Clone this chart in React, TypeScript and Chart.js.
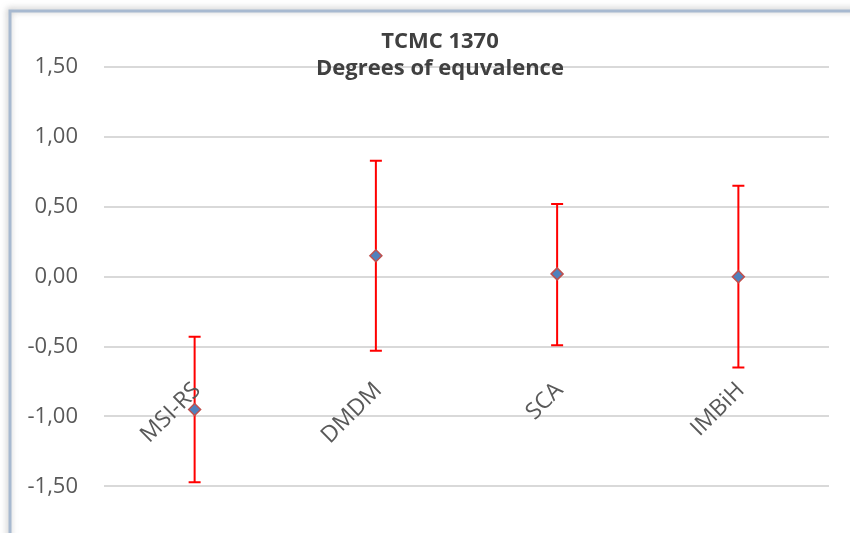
import React, { useEffect, useRef } from "react";
import { Chart, registerables } from "chart.js";

Chart.register(...registerables);

const categories = ["MSI-RS", "DMDM", "SCA", "IMBiH"];
const values = [-0.95, 0.15, 0.02, 0.0];
const errUp = [0.52, 0.68, 0.5, 0.65];
const errDown = [0.52, 0.68, 0.51, 0.65];
const titleLines = ["TCMC 1370", "Degrees of equvalence"];
const yMin = -1.78;
const yMax = 1.5;
const yStep = 0.5;
const labelAxisValue = -0.82;

const TICK_COLOR = "#595959";
const FONT = "'Open Sans', 'DejaVu Sans', sans-serif";

const framePlugin = {
  id: "frame",
  beforeDraw(chart: any) {
    const ctx = chart.ctx;
    ctx.save();
    ctx.fillStyle = "#ffffff";
    ctx.fillRect(0, 0, chart.width, chart.height);
    ctx.shadowColor = "rgba(120,120,120,0.55)";
    ctx.shadowBlur = 6;
    ctx.shadowOffsetX = -1;
    ctx.shadowOffsetY = -1;
    ctx.strokeStyle = "#a7b9d0";
    ctx.lineWidth = 3;
    ctx.beginPath();
    ctx.moveTo(10, chart.height + 10);
    ctx.lineTo(10, 11);
    ctx.lineTo(chart.width + 10, 11);
    ctx.stroke();
    ctx.restore();
  },
};

const errorBarPlugin = {
  id: "errorBars",
  beforeDatasetsDraw(chart: any) {
    const ctx = chart.ctx;
    const xs = chart.scales.x;
    const ys = chart.scales.y;
    ctx.save();
    ctx.strokeStyle = "#ff0000";
    ctx.lineWidth = 2;
    values.forEach((v, i) => {
      const x = xs.getPixelForValue(i);
      const yt = ys.getPixelForValue(v + errUp[i]);
      const yb = ys.getPixelForValue(v - errDown[i]);
      ctx.beginPath();
      ctx.moveTo(x, yt);
      ctx.lineTo(x, yb);
      ctx.moveTo(x - 6, yt);
      ctx.lineTo(x + 6, yt);
      ctx.moveTo(x - 6, yb);
      ctx.lineTo(x + 6, yb);
      ctx.stroke();
    });
    ctx.restore();
  },
};

const overlayPlugin = {
  id: "overlay",
  afterDatasetsDraw(chart: any) {
    const ctx = chart.ctx;
    const xs = chart.scales.x;
    const ys = chart.scales.y;
    ctx.save();
    // category labels (rotated -45°, below a horizontal axis crossing)
    ctx.fillStyle = TICK_COLOR;
    ctx.font = `23px ${FONT}`;
    ctx.textAlign = "right";
    ctx.textBaseline = "alphabetic";
    const ly = ys.getPixelForValue(labelAxisValue);
    categories.forEach((c, i) => {
      const x = xs.getPixelForValue(i) + 7;
      ctx.save();
      ctx.translate(x, ly);
      ctx.rotate(-Math.PI / 4);
      ctx.fillText(c, 0, 0);
      ctx.restore();
    });
    // title
    ctx.fillStyle = "#404040";
    ctx.font = `bold 22px ${FONT}`;
    ctx.textAlign = "center";
    ctx.textBaseline = "alphabetic";
    const cx = (chart.width + 30) / 2;
    ctx.fillText(titleLines[0], cx, 48);
    ctx.fillText(titleLines[1], cx, 75);
    ctx.restore();
  },
};

export default function App() {
  const ref = useRef<HTMLCanvasElement>(null);
  useEffect(() => {
    const chart = new Chart(ref.current as HTMLCanvasElement, {
      type: "line",
      data: {
        labels: categories,
        datasets: [
          {
            data: values,
            showLine: false,
            pointStyle: "rectRot",
            pointRadius: 6,
            pointBackgroundColor: "#4f81bd",
            pointBorderColor: "#c0504d",
            pointBorderWidth: 1.5,
          },
        ],
      },
      options: {
        animation: false,
        responsive: false,
        maintainAspectRatio: false,
        layout: { padding: { top: 67, right: 21, bottom: 0, left: 0 } },
        plugins: { legend: { display: false }, tooltip: { enabled: false }, title: { display: false } },
        scales: {
          x: { type: "category", offset: true, display: false },
          y: {
            min: yMin,
            max: yMax,
            afterBuildTicks(scale: any) {
              scale.ticks = scale.ticks.filter(
                (t: any) => Math.abs(t.value / yStep - Math.round(t.value / yStep)) < 1e-6
              );
            },
            afterFit(scale: any) {
              scale.width = 104;
              scale.paddingTop = 0;
              scale.paddingBottom = 0;
            },
            ticks: {
              stepSize: yStep,
              padding: 26,
              color: TICK_COLOR,
              font: { family: FONT, size: 22 },
              callback: (v: any) => Number(v).toFixed(2).replace(".", ","),
            },
            grid: { color: "#d9d9d9", lineWidth: 2, drawTicks: false },
            border: { display: false },
          },
        },
      },
      plugins: [framePlugin, errorBarPlugin, overlayPlugin],
    });
    return () => chart.destroy();
  }, []);
  return (
    <div style={{ position: "fixed", left: 0, top: 0, width: 850, height: 533 }}>
      <canvas ref={ref} width={850} height={533} style={{ display: "block" }} />
    </div>
  );
}
